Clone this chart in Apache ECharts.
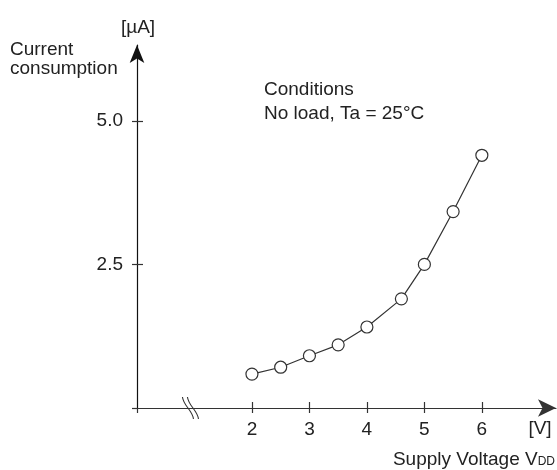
<!DOCTYPE html>
<html>
<head>
<meta charset="utf-8">
<script src="https://cdn.jsdelivr.net/npm/echarts@6/dist/echarts.min.js"></script>
<style>
  html, body { margin: 0; padding: 0; background: #fff; }
  #main { width: 557px; height: 470px; }
</style>
</head>
<body>
<div id="main"></div>
<script>
// supply voltage [V] and current consumption [uA]
var voltage = [2, 2.5, 3, 3.5, 4, 4.6, 5, 5.5, 6];
var current = [0.59, 0.71, 0.91, 1.10, 1.41, 1.90, 2.50, 3.42, 4.40];

var xTicks = [2, 3, 4, 5, 6];
var yTicks = [2.5, 5.0];

var FONT = '"Liberation Sans", Arial, sans-serif';
var INK = '#222';
var AXIS = '#333';

var chart = echarts.init(document.getElementById('main'));

var points = [];
for (var i = 0; i < voltage.length; i++) {
  points.push([voltage[i], current[i]]);
}

var xBase = {
  type: 'value',
  min: 0,
  max: 7.29,
  splitLine: { show: false }
};
var yBase = {
  type: 'value',
  min: 0,
  max: 6.32,
  splitLine: { show: false }
};

// hidden twin axes only carry the half of each tick that sits inside the plot
var option = {
  animation: false,
  grid: { left: 137, right: 1, top: 45, bottom: 62 },
  xAxis: [
    Object.assign({}, xBase, {
      position: 'bottom',
      axisLine: {
        show: true,
        lineStyle: { color: AXIS, width: 1.2 },
        symbol: ['none', 'arrow'],
        symbolSize: [13, 18]
      },
      axisTick: {
        show: true, length: 5, customValues: [0].concat(xTicks),
        lineStyle: { color: AXIS, width: 1.2 }
      },
      axisLabel: {
        show: true, margin: 12, customValues: xTicks,
        color: INK, fontSize: 19, fontFamily: FONT
      }
    }),
    Object.assign({}, xBase, {
      position: 'bottom',
      offset: -6,
      axisLine: { show: true, lineStyle: { opacity: 0 } },
      axisTick: {
        show: true, length: 6, customValues: xTicks,
        lineStyle: { color: AXIS, width: 1.2 }
      },
      axisLabel: { show: false }
    })
  ],
  yAxis: [
    Object.assign({}, yBase, {
      position: 'left',
      axisLine: {
        show: true,
        lineStyle: { color: '#111', width: 1.2 },
        symbol: ['none', 'arrow'],
        symbolSize: [11, 18]
      },
      axisTick: {
        show: true, length: 5, customValues: [0].concat(yTicks),
        lineStyle: { color: AXIS, width: 1.2 }
      },
      axisLabel: {
        show: true, margin: 14, customValues: yTicks,
        formatter: function (v) { return v.toFixed(1); },
        color: INK, fontSize: 19, fontFamily: FONT
      }
    }),
    Object.assign({}, yBase, {
      position: 'left',
      offset: -6,
      axisLine: { show: true, lineStyle: { opacity: 0 } },
      axisTick: {
        show: true, length: 6, customValues: yTicks,
        lineStyle: { color: AXIS, width: 1.2 }
      },
      axisLabel: { show: false }
    })
  ],
  series: [{
    type: 'line',
    data: points,
    symbol: 'circle',
    symbolSize: 12,
    lineStyle: { color: '#333', width: 1.2 },
    itemStyle: { color: '#fff', borderColor: '#333', borderWidth: 1.2 },
    z: 5
  }],
  graphic: [
    { type: 'text', x: 138, y: 28, style: {
        text: '[µA]', fill: INK, font: '19px ' + FONT,
        textAlign: 'center', textVerticalAlign: 'middle' } },
    { type: 'text', x: 10, y: 59.5, style: {
        text: 'Current\nconsumption', fill: INK, font: '19px ' + FONT, lineHeight: 19,
        textAlign: 'left', textVerticalAlign: 'middle' } },
    { type: 'text', x: 264, y: 102, style: {
        text: 'Conditions\nNo load, Ta = 25°C', fill: INK, font: '19px ' + FONT, lineHeight: 23.5,
        textAlign: 'left', textVerticalAlign: 'middle' } },
    { type: 'text', x: 540, y: 429, style: {
        text: '[V]', fill: INK, font: '19px ' + FONT,
        textAlign: 'center', textVerticalAlign: 'middle' } },
    { type: 'text', x: 555, y: 459, style: {
        text: '{m|Supply Voltage V}{s|DD}',
        textAlign: 'right', textVerticalAlign: 'middle',
        rich: {
          m: { fill: INK, fontSize: 19, fontFamily: FONT, verticalAlign: 'bottom', lineHeight: 20 },
          s: { fill: INK, fontSize: 12, fontFamily: FONT, verticalAlign: 'bottom', lineHeight: 20, padding: [0, 0, 1, 0] }
        } } }
  ]
};

chart.setOption(option);

// axis break mark near the origin
var bp = chart.convertToPixel({ xAxisIndex: 0, yAxisIndex: 0 }, [0.93, 0]);
var breakLines = [];
[-2.5, 2.5].forEach(function (dx) {
  var x0 = bp[0] + dx - 5.5;
  var x1 = bp[0] + dx + 5.5;
  breakLines.push({
    type: 'bezierCurve',
    shape: {
      x1: x0, y1: bp[1] - 11,
      cpx1: x0 + 1, cpy1: bp[1] - 2,
      cpx2: x1 - 1, cpy2: bp[1] + 2,
      x2: x1, y2: bp[1] + 11
    },
    style: { stroke: AXIS, lineWidth: 1.1, fill: null },
    z: 10
  });
});
chart.setOption({ graphic: option.graphic.concat(breakLines) });
</script>
</body>
</html>
